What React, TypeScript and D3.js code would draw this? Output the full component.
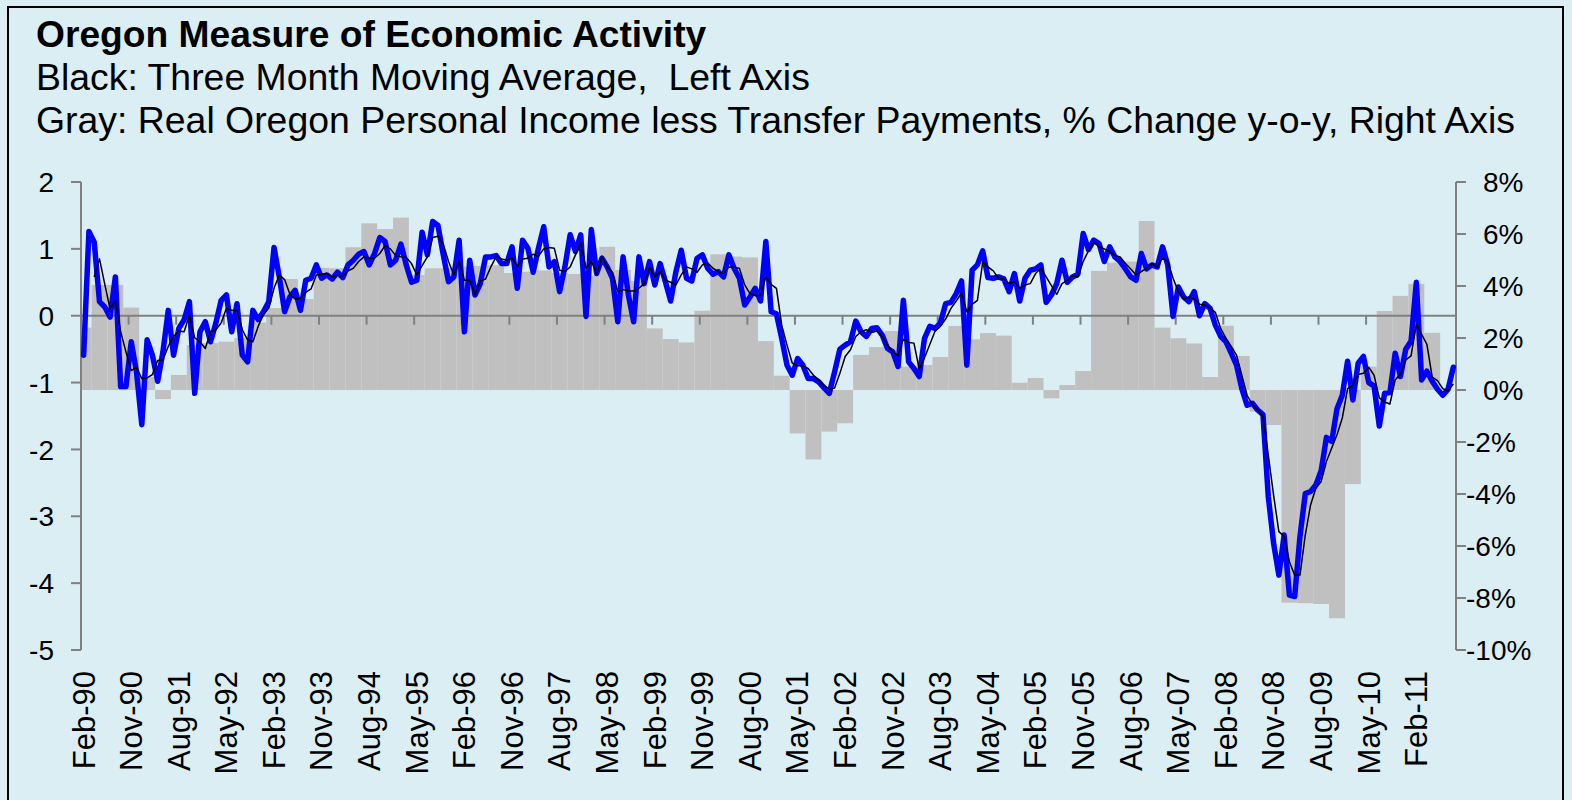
import React from 'react';
import * as d3 from 'd3';

const W = 1572;
const H = 800;
const MONTHS = ['Jan', 'Feb', 'Mar', 'Apr', 'May', 'Jun', 'Jul', 'Aug', 'Sep', 'Oct', 'Nov', 'Dec'];

// Oregon Measure of Economic Activity, monthly from Feb-90 (left axis)
const omeaMonthly: number[] = [
  -0.59, 1.26, 1.1, 0.21, 0.13, -0.02, 0.58, -1.06, -1.06, -0.39,
  -0.84, -1.63, -0.36, -0.59, -0.98, -0.54, 0.08, -0.59, -0.19, -0.06,
  0.21, -1.16, -0.24, -0.09, -0.39, -0.11, 0.23, 0.31, -0.24, 0.18,
  -0.59, -0.69, 0.08, -0.06, 0.06, 0.21, 1.02, 0.58, 0.06, 0.28,
  0.38, 0.08, 0.53, 0.56, 0.76, 0.56, 0.61, 0.55, 0.65, 0.57,
  0.76, 0.83, 0.92, 0.96, 0.76, 0.93, 1.17, 1.11, 0.76, 0.83,
  1.07, 0.76, 0.5, 0.53, 1.25, 0.91, 1.41, 1.35, 0.91, 0.51,
  0.58, 1.13, -0.24, 0.83, 0.31, 0.48, 0.88, 0.88, 0.9, 0.78,
  0.78, 1.03, 0.41, 1.13, 1.01, 0.65, 1.01, 1.33, 0.73, 0.81,
  0.36, 0.73, 1.21, 0.96, 1.21, -0.01, 1.29, 0.63, 0.86, 0.73,
  0.56, -0.09, 0.88, 0.31, -0.09, 0.88, 0.48, 0.81, 0.46, 0.78,
  0.51, 0.22, 0.66, 0.98, 0.56, 0.52, 0.86, 0.91, 0.71, 0.62,
  0.66, 0.58, 0.91, 0.71, 0.56, 0.16, 0.28, 0.41, 0.22, 1.11,
  0.06, 0.03, -0.34, -0.74, -0.89, -0.64, -0.74, -0.94, -0.94, -0.99,
  -1.08, -1.16, -0.84, -0.5, -0.44, -0.39, -0.08, -0.24, -0.31, -0.19,
  -0.18, -0.29, -0.49, -0.54, -0.76, 0.23, -0.69, -0.79, -0.91, -0.34,
  -0.16, -0.19, -0.11, 0.18, 0.2, 0.33, 0.52, -0.74, 0.68, 0.76,
  0.97, 0.57, 0.56, 0.58, 0.55, 0.36, 0.63, 0.22, 0.56, 0.68,
  0.7, 0.76, 0.2, 0.31, 0.48, 0.83, 0.5, 0.58, 0.62, 1.23,
  0.99, 1.13, 1.08, 0.81, 1.03, 0.88, 0.81, 0.7, 0.58, 0.53,
  0.93, 0.7, 0.76, 0.73, 1.03, 0.76, -0.01, 0.43, 0.28, 0.21,
  0.36, 0.0, 0.18, 0.11, -0.14, -0.31, -0.39, -0.56, -0.74, -1.09,
  -1.34, -1.31, -1.41, -1.48, -2.7, -3.4, -3.88, -3.28, -4.18, -4.2,
  -3.3, -2.66, -2.63, -2.53, -2.32, -1.82, -1.88, -1.39, -1.19, -0.68,
  -1.26, -0.71, -0.61, -1.0, -1.05, -1.65, -1.16, -1.15, -0.56, -0.91,
  -0.5, -0.38, 0.5, -0.96, -0.83, -0.98, -1.1, -1.19, -1.1, -0.77,
];

// Three month moving average (black)
const omeaMA3: (number | null)[] = [
  null, null, 0.58, 0.85, 0.47, 0.1, 0.22, -0.24, -0.54, -0.82,
  -0.77, -0.94, -0.93, -0.88, -0.67, -0.66, -0.46, -0.31, -0.23, -0.24,
  0.01, -0.33, -0.39, -0.49, -0.24, -0.21, -0.11, 0.11, 0.08, 0.07,
  -0.21, -0.36, -0.39, -0.16, 0.02, 0.11, 0.41, 0.61, 0.54, 0.32,
  0.25, 0.26, 0.35, 0.4, 0.61, 0.62, 0.63, 0.58, 0.61, 0.59,
  0.67, 0.71, 0.81, 0.88, 0.86, 0.86, 0.93, 1.05, 1.0, 0.9,
  0.88, 0.87, 0.78, 0.61, 0.75, 0.88, 1.17, 1.19, 1.07, 0.81,
  0.61, 0.81, 0.53, 0.53, 0.31, 0.52, 0.55, 0.73, 0.88, 0.85,
  0.83, 0.87, 0.74, 0.85, 0.86, 0.92, 0.89, 1.0, 1.02, 1.01,
  0.68, 0.66, 0.73, 0.91, 1.09, 0.71, 0.82, 0.62, 0.89, 0.73,
  0.65, 0.36, 0.39, 0.37, 0.37, 0.41, 0.48, 0.73, 0.58, 0.67,
  0.53, 0.5, 0.46, 0.61, 0.73, 0.7, 0.65, 0.76, 0.79, 0.71,
  0.66, 0.63, 0.73, 0.72, 0.71, 0.46, 0.33, 0.3, 0.31, 0.58,
  0.47, 0.41, -0.14, -0.44, -0.71, -0.75, -0.75, -0.79, -0.89, -0.96,
  -1.04, -1.1, -1.08, -0.86, -0.61, -0.51, -0.31, -0.24, -0.21, -0.25,
  -0.23, -0.31, -0.44, -0.54, -0.6, -0.35, -0.4, -0.41, -0.8, -0.63,
  -0.43, -0.23, -0.16, -0.05, 0.11, 0.22, 0.34, 0.06, 0.17, 0.23,
  0.8, 0.73, 0.67, 0.56, 0.55, 0.48, 0.51, 0.41, 0.46, 0.48,
  0.63, 0.71, 0.58, 0.45, 0.32, 0.48, 0.53, 0.6, 0.58, 0.81,
  0.97, 1.1, 1.03, 1.0, 0.96, 0.9, 0.88, 0.78, 0.7, 0.61,
  0.66, 0.71, 0.78, 0.73, 0.86, 0.81, 0.56, 0.36, 0.25, 0.28,
  0.25, 0.17, 0.16, 0.11, 0.05, -0.19, -0.34, -0.46, -0.59, -0.89,
  -1.19, -1.33, -1.41, -1.51, -2.08, -2.68, -3.23, -3.3, -3.68, -3.88,
  -3.88, -3.28, -2.83, -2.58, -2.48, -2.18, -1.98, -1.78, -1.53, -1.09,
  -1.04, -0.88, -0.86, -0.77, -0.89, -1.23, -1.29, -1.32, -0.96, -0.87,
  -0.66, -0.6, -0.13, -0.28, -0.43, -0.92, -0.97, -1.09, -1.13, -1.02,
];

// Real Oregon personal income less transfers, % y-o-y, quarterly from 1990Q1 (right axis)
const incomeQuarterly: number[] = [
  2.4, 4.04, 4.04, 3.17, 0.5, -0.35, 0.58, 1.73, 1.8, 1.86,
  2.0, 2.6, 3.15, 4.27, 3.5, 4.7, 4.68, 5.49, 6.41, 6.19,
  6.63, 4.42, 4.68, 4.68, 4.75, 4.77, 4.8, 4.5, 4.55, 4.6,
  4.5, 4.46, 4.4, 5.51, 4.62, 4.19, 2.37, 1.96, 1.83, 3.05,
  5.22, 5.13, 5.1, 1.88, 0.55, -1.67, -2.67, -1.6, -1.28, 1.35,
  1.65, 2.27, 0.9, 0.96, 1.27, 2.46, 1.95, 2.19, 2.09, 0.28,
  0.46, -0.32, 0.19, 0.73, 4.58, 4.9, 4.94, 6.5, 2.4, 1.99,
  1.79, 0.5, 2.47, 1.31, -0.83, -1.35, -8.18, -8.2, -8.23, -8.78,
  -3.62, 0.9, 3.04, 3.62, 4.08, 2.2,
];

const xTickLabels = [
  'Feb-90', 'Nov-90', 'Aug-91', 'May-92', 'Feb-93', 'Nov-93', 'Aug-94', 'May-95',
  'Feb-96', 'Nov-96', 'Aug-97', 'May-98', 'Feb-99', 'Nov-99', 'Aug-00', 'May-01',
  'Feb-02', 'Nov-02', 'Aug-03', 'May-04', 'Feb-05', 'Nov-05', 'Aug-06', 'May-07',
  'Feb-08', 'Nov-08', 'Aug-09', 'May-10', 'Feb-11',
];
const leftTicks = [2, 1, 0, -1, -2, -3, -4, -5];
const rightTicks = [8, 6, 4, 2, 0, -2, -4, -6, -8, -10];

const TITLE = 'Oregon Measure of Economic Activity';
const SUB1 = 'Black: Three Month Moving Average,  Left Axis';
const SUB2 = 'Gray: Real Oregon Personal Income less Transfer Payments, % Change y-o-y, Right Axis';

const categories = omeaMonthly.map((_, i) => {
  const m = 1 + i;
  const yr = 1990 + Math.floor(m / 12);
  return `${MONTHS[m % 12]}-${String(yr % 100).padStart(2, '0')}`;
});

const PLOT = { left: 81, right: 1456, top: 182, bottom: 650 };
const FONT = "'Liberation Sans', Arial, sans-serif";

export default function App() {
  const x = d3.scaleBand<string>().domain(categories).range([PLOT.left, PLOT.right]).padding(0);
  const bw = x.bandwidth();
  const yL = d3.scaleLinear().domain([-5, 2]).range([PLOT.bottom, PLOT.top]);
  const yR = d3.scaleLinear().domain([-10, 8]).range([PLOT.bottom, PLOT.top]);

  const cx = (i: number) => (x(categories[i]) as number) + bw / 2;

  const blueLine = d3
    .line<number>()
    .x((_, i) => cx(i))
    .y((d) => yL(d))(omeaMonthly) as string;

  const blackLine = d3
    .line<number | null>()
    .defined((d) => d !== null)
    .x((_, i) => cx(i))
    .y((d) => yL(d as number))(omeaMA3) as string;

  const bars = incomeQuarterly.map((v, k) => {
    const start = Math.max(0, 3 * k - 1);
    const end = Math.min(categories.length - 1, 3 * k + 1);
    const x0 = x(categories[start]) as number;
    const x1 = (x(categories[end]) as number) + bw;
    const y0 = yR(0);
    const y1 = yR(v);
    return { x: x0, w: x1 - x0, y: Math.min(y0, y1), h: Math.abs(y1 - y0), k };
  });

  const tickCats = xTickLabels.map((lab) => categories.indexOf(lab));

  return (
    <div style={{ position: 'absolute', left: 0, top: 0, width: W, height: H }}>
      <svg width={W} height={H} style={{ display: 'block' }} fontFamily={FONT}>
        <rect x={0} y={0} width={W} height={H} fill="#DBEEF4" />
        <rect x={8} y={7} width={1555} height={H + 10} fill="none" stroke="#000" strokeWidth={2} />

        <text x={36} y={47} fontSize={37.2} fontWeight="bold" fill="#000">{TITLE}</text>
        <text x={36} y={90} fontSize={37.4} fill="#000" style={{ whiteSpace: 'pre' }}>{SUB1}</text>
        <text x={36} y={133} fontSize={37.4} fill="#000" style={{ whiteSpace: 'pre' }}>{SUB2}</text>

        {/* bars */}
        <g>
          {bars.map((b) => (
            <rect key={b.k} x={b.x} y={b.y} width={b.w} height={b.h} fill="#C0C0C0" />
          ))}
        </g>

        {/* zero line with category ticks */}
        <line x1={PLOT.left} x2={PLOT.right} y1={yL(0)} y2={yL(0)} stroke="#808080" strokeWidth={2} />
        {tickCats.map((ci, j) =>
          j === 0 ? null : (
            <line
              key={j}
              x1={x(categories[ci]) as number}
              x2={x(categories[ci]) as number}
              y1={yL(0)}
              y2={yL(0) + 9}
              stroke="#808080"
              strokeWidth={2}
            />
          )
        )}

        {/* left axis */}
        <line x1={PLOT.left} x2={PLOT.left} y1={PLOT.top} y2={PLOT.bottom} stroke="#808080" strokeWidth={2} />
        {leftTicks.map((t) => (
          <g key={t}>
            <line x1={PLOT.left - 10} x2={PLOT.left} y1={yL(t)} y2={yL(t)} stroke="#808080" strokeWidth={2} />
            <text x={54} y={yL(t)} dy="0.36em" textAnchor="end" fontSize={28} fill="#000">
              {t}
            </text>
          </g>
        ))}

        {/* right axis */}
        <line x1={PLOT.right} x2={PLOT.right} y1={PLOT.top} y2={PLOT.bottom} stroke="#808080" strokeWidth={2} />
        {rightTicks.map((t) => (
          <g key={t}>
            <line x1={PLOT.right} x2={PLOT.right + 10} y1={yR(t)} y2={yR(t)} stroke="#808080" strokeWidth={2} />
            <text x={t < 0 ? 1466 : 1483} y={yR(t)} dy="0.36em" textAnchor="start" fontSize={28} fill="#000">
              {`${t}%`}
            </text>
          </g>
        ))}

        {/* lines */}
        <path d={blueLine} fill="none" stroke="#0000FF" strokeWidth={5.5} strokeLinejoin="round" strokeLinecap="round" />
        <path d={blackLine} fill="none" stroke="#000" strokeWidth={1.5} strokeLinejoin="round" />

        {/* x labels */}
        {tickCats.map((ci, j) => (
          <text
            key={j}
            transform={`translate(${cx(ci)},${671}) rotate(-90)`}
            textAnchor="end"
            dy="0.35em"
            fontSize={31}
            fill="#000"
          >
            {xTickLabels[j]}
          </text>
        ))}
      </svg>
    </div>
  );
}
